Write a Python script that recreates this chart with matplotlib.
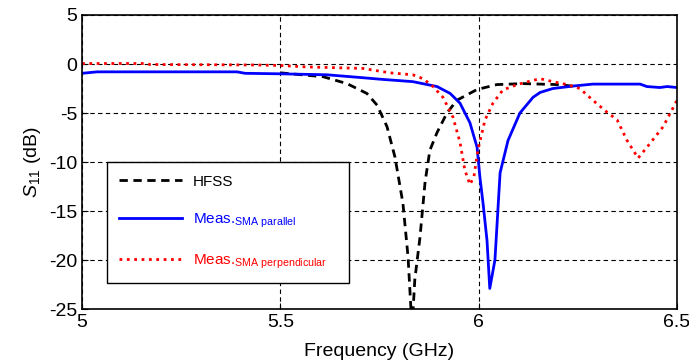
import matplotlib
matplotlib.use('Agg')
import matplotlib.pyplot as plt

plt.rcParams['font.family'] = ['Liberation Sans', 'DejaVu Sans']
plt.rcParams['mathtext.fontset'] = 'custom'
plt.rcParams['mathtext.rm'] = 'Liberation Sans'
plt.rcParams['mathtext.it'] = 'Liberation Sans:italic'
plt.rcParams['axes.unicode_minus'] = False

# HFSS Simulation
f_hfss = [5.5, 5.608, 5.668, 5.718, 5.744, 5.769, 5.789, 5.809, 5.822, 5.832,
          5.839, 5.852, 5.865, 5.877, 5.895, 5.920, 5.945, 5.996, 6.046, 6.112,
          6.197, 6.248]
s_hfss = [-0.9, -1.3, -2.0, -3.0, -4.2, -6.4, -9.5, -14.2, -19.7, -27,
          -22, -17.7, -12, -8.8, -7, -5, -3.7, -2.6, -2.1, -2.0,
          -2.1, -2.3]

# Messung SMA parallel
f_par = [5.0, 5.038, 5.391, 5.411, 5.499, 5.618, 5.708, 5.751, 5.834, 5.895,
         5.928, 5.953, 5.978, 5.996, 6.003, 6.011, 6.021, 6.028, 6.041, 6.054,
         6.074, 6.104, 6.137, 6.155, 6.187, 6.238, 6.288, 6.407, 6.424, 6.457,
         6.475, 6.5]
s_par = [-0.95, -0.8, -0.8, -0.95, -1.0, -1.1, -1.4, -1.55, -1.8, -2.3,
         -3.0, -4.0, -6.0, -8.5, -11.5, -14.2, -18, -22.9, -20, -11.1,
         -7.8, -5.0, -3.4, -2.9, -2.5, -2.25, -2.05, -2.05, -2.3, -2.4,
         -2.3, -2.4]

# Messung SMA senkrecht
f_perp = [5.0, 5.164, 5.171, 5.441, 5.499, 5.567, 5.708, 5.776, 5.834, 5.860,
          5.885, 5.910, 5.935, 5.953, 5.965, 5.978, 5.988, 5.998, 6.016, 6.036,
          6.061, 6.097, 6.129, 6.155, 6.187, 6.223, 6.255, 6.288, 6.323, 6.349,
          6.374, 6.402, 6.432, 6.465, 6.5]
s_perp = [0.05, 0.05, -0.05, -0.1, -0.15, -0.3, -0.45, -0.9, -1.1, -1.5,
          -2.3, -3.4, -5.4, -8, -10.8, -12.3, -11.5, -8.8, -5.7, -4.0,
          -2.65, -2.1, -1.75, -1.5, -1.8, -2.1, -2.5, -3.7, -4.9, -5.7,
          -7.8, -9.6, -8.1, -6.4, -3.7]

fig = plt.figure(figsize=(6.89, 3.64), dpi=100)
ax = fig.add_axes((0.119, 0.151, 0.8636, 0.8078))

ax.plot(f_hfss, s_hfss, color='black', linestyle=(0, (3, 2)), linewidth=2, label='HFSS')
ax.plot(f_par, s_par, color='blue', linewidth=2, label=r'Meas.$_{\mathrm{SMA\ parallel}}$')
ax.plot(f_perp, s_perp, color='red', linestyle=':', linewidth=2,
        label=r'Meas.$_{\mathrm{SMA}\ \mathrm{perpendicular}}$')

ax.set_xlim(5, 6.5)
ax.set_ylim(-25, 5)
ax.set_xticks([5, 5.5, 6, 6.5])
ax.set_xticklabels(['5', '5.5', '6', '6.5'])
ax.set_yticks([-25, -20, -15, -10, -5, 0, 5])
ax.tick_params(direction='in', labelsize=14, length=4)
ax.grid(True, color='black', linestyle=(0, (4, 3)), linewidth=0.8)

ax.set_xlabel('Frequency (GHz)', fontsize=14, labelpad=9)
ax.set_ylabel(r'$S_{11}$ (dB)', fontsize=14, labelpad=4)

for sp in ax.spines.values():
    sp.set_linewidth(1.2)

leg = ax.legend(loc='lower left', bbox_to_anchor=(0.042, 0.088, 0.407, 0.41),
                mode='expand', borderaxespad=0, fontsize=11, labelcolor='linecolor',
                handlelength=4.1, handletextpad=0.7, labelspacing=1.5,
                fancybox=False, edgecolor='black', framealpha=1, borderpad=0.8)
leg.get_frame().set_linewidth(1.0)

plt.savefig('out.png', dpi=100)
